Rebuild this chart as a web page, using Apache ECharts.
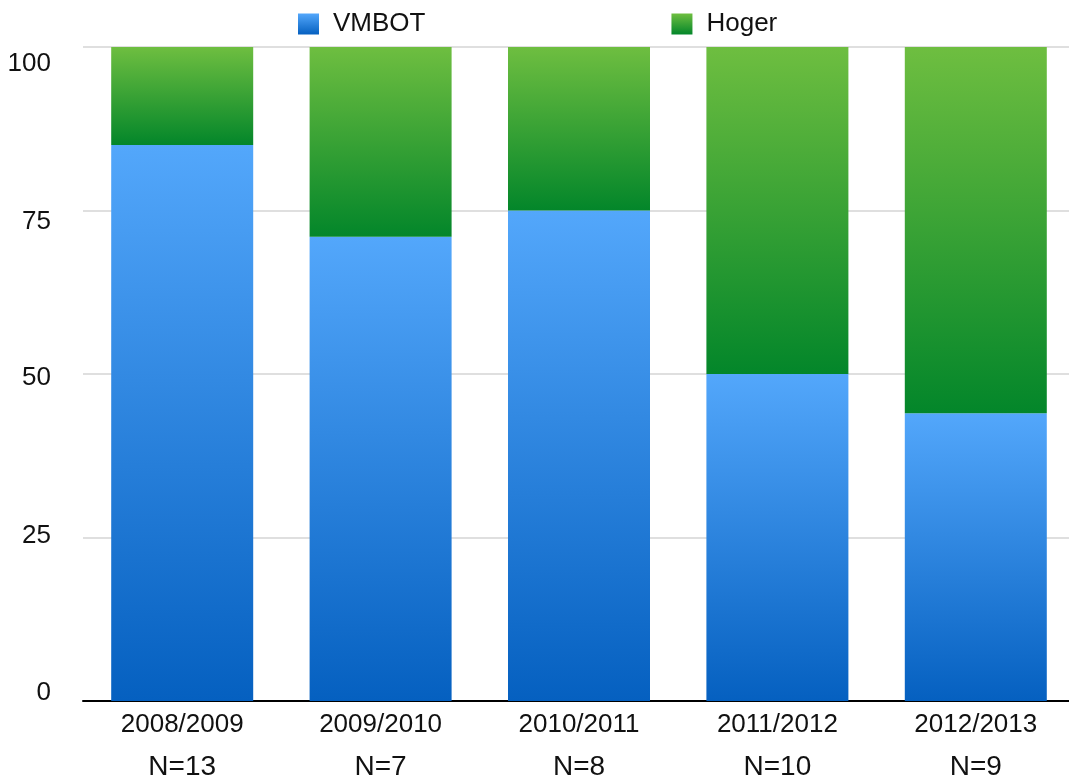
<!DOCTYPE html>
<html>
<head>
<meta charset="utf-8">
<script src="https://cdn.jsdelivr.net/npm/echarts@6/dist/echarts.min.js"></script>
<style>
html,body{margin:0;padding:0;background:#fff;}
#chart{width:1069px;height:780px;}
</style>
</head>
<body>
<div id="chart"></div>
<script>
// data
var years=['2008/2009','2009/2010','2010/2011','2011/2012','2012/2013'];
var counts=['N=13','N=7','N=8','N=10','N=9'];
var vmbot=[85,71,75,50,44];
var hoger=[15,29,25,50,56];
var yTicks=[0,25,50,75,100];

var font='"Liberation Sans", Arial, sans-serif';
function grad(top,bottom){
    return new echarts.graphic.LinearGradient(0,0,0,1,[
        {offset:0,color:top},{offset:1,color:bottom}
    ]);
}
var blue=grad('#53a7fb','#0560c0');
var green=grad('#6ebe40','#03862a');

// y labels in the original sit a bit off their grid lines
var yRich={
    l100:{padding:[34,0,0,0]},
    l75:{padding:[22,0,0,0]},
    l50:{padding:[8,0,0,0]},
    l25:{padding:[0,0,3,0]},
    l0:{padding:[0,0,16,0]}
};

var chart=echarts.init(document.getElementById('chart'));
chart.setOption({
    animation:false,
    textStyle:{fontFamily:font},
    legend:{
        top:6,
        left:293,
        itemWidth:21,
        itemHeight:21,
        itemGap:246,
        icon:'rect',
        textStyle:{fontSize:26,color:'#111',fontFamily:font,padding:[0,0,0,9]},
        data:['VMBOT','Hoger']
    },
    grid:{left:83,top:47,width:992,height:654,containLabel:false,outerBoundsMode:'none'},
    xAxis:{
        type:'category',
        data:years,
        axisTick:{show:false},
        axisLine:{lineStyle:{color:'#000',width:2}},
        axisLabel:{
            margin:3,
            color:'#111',
            formatter:function(v,i){
                return '{y|'+v+'}\n{n|'+counts[i]+'}';
            },
            rich:{
                y:{fontSize:26,lineHeight:42,fontFamily:font,color:'#111'},
                n:{fontSize:28,lineHeight:42,fontFamily:font,color:'#111'}
            }
        }
    },
    yAxis:{
        type:'value',
        min:0,
        max:100,
        interval:25,
        axisLine:{show:false},
        axisTick:{show:false},
        splitLine:{lineStyle:{color:'#d4d4d4',width:1.5}},
        axisLabel:{
            margin:32,
            fontSize:26,
            color:'#111',
            formatter:function(v){
                var k='l'+v;
                return yRich[k]?'{'+k+'|'+v+'}':String(v);
            },
            rich:(function(){
                var r={};
                yTicks.forEach(function(t){
                    r['l'+t]=Object.assign({fontSize:26,fontFamily:font,color:'#111'},yRich['l'+t]);
                });
                return r;
            })()
        }
    },
    series:[
        {
            name:'VMBOT',
            type:'bar',
            stack:'a',
            barWidth:142,
            data:vmbot,
            itemStyle:{color:blue}
        },
        {
            name:'Hoger',
            type:'bar',
            stack:'a',
            barWidth:142,
            data:hoger,
            itemStyle:{color:green}
        }
    ]
});
</script>
</body>
</html>
